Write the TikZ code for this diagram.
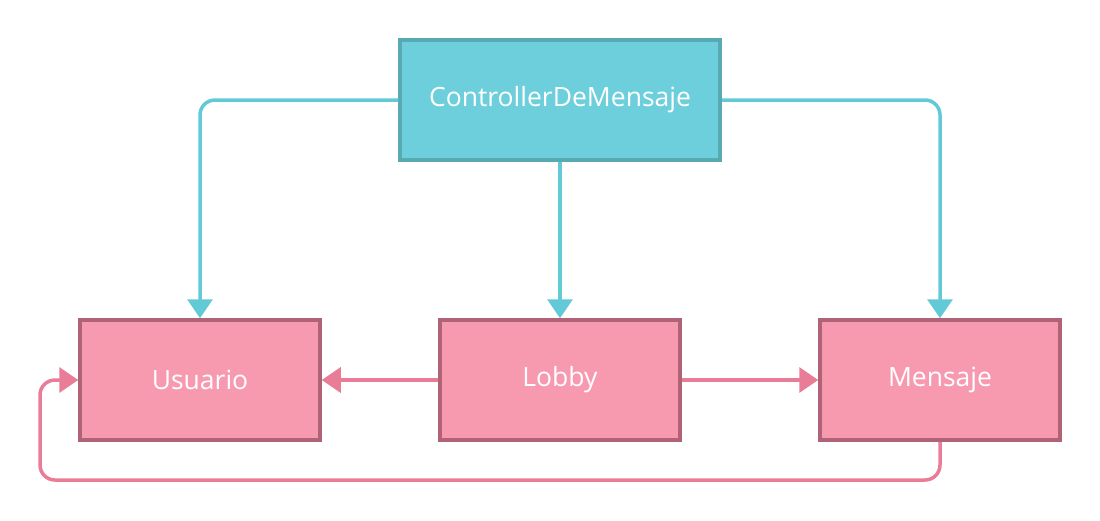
\documentclass[tikz,border=0pt]{standalone}
\usepackage{fontspec}
\setmainfont{Open Sans}
\usetikzlibrary{arrows.meta}
\definecolor{cfill}{HTML}{6ECFDC}
\definecolor{cdraw}{HTML}{57A9B2}
\definecolor{pfill}{HTML}{F79AB0}
\definecolor{pdraw}{HTML}{B06276}
\definecolor{cline}{HTML}{62C9D6}
\definecolor{pline}{HTML}{E97D98}
\tikzset{
  box/.style={minimum width=240pt, minimum height=120pt, line width=3.5pt, text=white, font=\fontsize{26.5}{30}\selectfont, inner sep=0pt},
  cbox/.style={box, fill=cfill, draw=cdraw, minimum width=320pt},
  pbox/.style={box, fill=pfill, draw=pdraw},
  conn/.style={line width=3.5pt, rounded corners=15pt, -{Triangle[length=19pt,width=25pt]}},
  cconn/.style={conn, draw=cline},
  pconn/.style={conn, draw=pline},
}
\begin{document}
\begin{tikzpicture}[x=1pt,y=-1pt]
\useasboundingbox (0,0) rectangle (1100,520);
\node[cbox] (ctrl) at (560,100) {ControllerDeMensaje};
\node[pbox] (usu) at (200,380) {Usuario};
\node[pbox] (lob) at (560,380) {Lobby};
\node[pbox] (men) at (940,380) {Mensaje};
\draw[cconn] (ctrl.west) -| (usu.north);
\draw[cconn] (ctrl.east) -| (men.north);
\draw[cconn] (ctrl.south) -- (lob.north);
\draw[pconn] (lob.west) -- (usu.east);
\draw[pconn] (lob.east) -- (men.west);
\coordinate (b1) at (940,480);
\coordinate (b2) at (40,480);
\draw[pconn] (men.south) -- (b1) -- (b2) |- (usu.west);
\end{tikzpicture}
\end{document}
